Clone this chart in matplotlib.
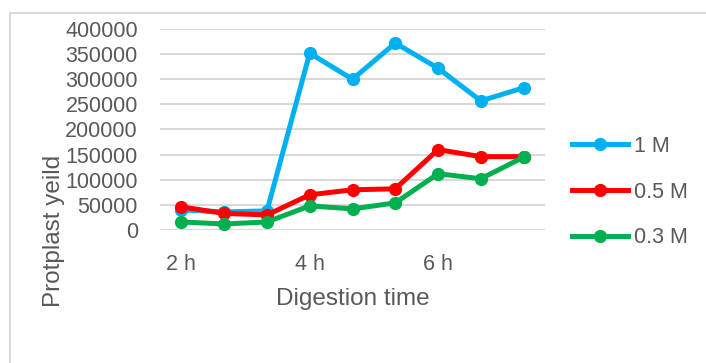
import matplotlib.pyplot as plt
from matplotlib.patches import Rectangle

plt.rcParams['font.family'] = ['Liberation Sans', 'DejaVu Sans']

# Protoplast yield at each digestion time step
times = ['2 h', '', '', '4 h', '', '', '6 h', '', '']
yield_1m = [40000, 36000, 38000, 352000, 300000, 372000, 322000, 257000, 283000]
yield_05m = [46000, 33000, 30000, 70000, 80000, 82000, 160000, 146000, 146000]
yield_03m = [16000, 12000, 16000, 48000, 42000, 54000, 112000, 102000, 145000]

txt = '#595959'
fs = 15.5

fig = plt.figure(figsize=(7.06, 3.63), dpi=100)
ax = fig.add_axes([160 / 706, 1 - 230 / 363, 385 / 706, 201 / 363])

# outer chart border
fig.patches.append(Rectangle((10 / 706, -0.1), 1.1, 1 - 13 / 363 + 0.1,
                             transform=fig.transFigure, fill=False,
                             edgecolor='#D9D9D9', linewidth=1.5))

x = range(len(times))
ax.plot(x, yield_1m, color='#00B0F0', lw=3.6, marker='o', ms=8.5, label='1 M')
ax.plot(x, yield_05m, color='#FF0000', lw=3.6, marker='o', ms=8.5, label='0.5 M')
ax.plot(x, yield_03m, color='#00B050', lw=3.6, marker='o', ms=8.5, label='0.3 M')

ax.set_xlim(-0.5, len(times) - 0.5)
ax.set_ylim(0, 400000)
ax.set_yticks(range(0, 400001, 50000))
ax.set_xticks(list(x))
ax.set_xticklabels(times)
ax.grid(axis='y', color='#D9D9D9', lw=1.5)
ax.set_axisbelow(True)
for s in ax.spines.values():
    s.set_visible(False)
ax.tick_params(length=0, labelsize=fs, labelcolor=txt)
ax.tick_params(axis='y', pad=16)
ax.tick_params(axis='x', pad=17)

fig.text(54 / 706, 1 - 231 / 363, 'Protplast yeild', rotation=90,
         ha='center', va='center', fontsize=17.5, color=txt)
fig.text(353 / 706, 1 - 299 / 363, 'Digestion time',
         ha='center', va='center', fontsize=17.5, color=txt)

leg = ax.legend(loc='center left', bbox_to_anchor=(572 / 706, 1 - 192 / 363),
                bbox_transform=fig.transFigure, frameon=False, fontsize=fs,
                handlelength=2.6, handletextpad=0.3, labelspacing=1.16,
                borderpad=0, borderaxespad=0)
for t in leg.get_texts():
    t.set_color(txt)

fig.savefig('out.png', dpi=100)
